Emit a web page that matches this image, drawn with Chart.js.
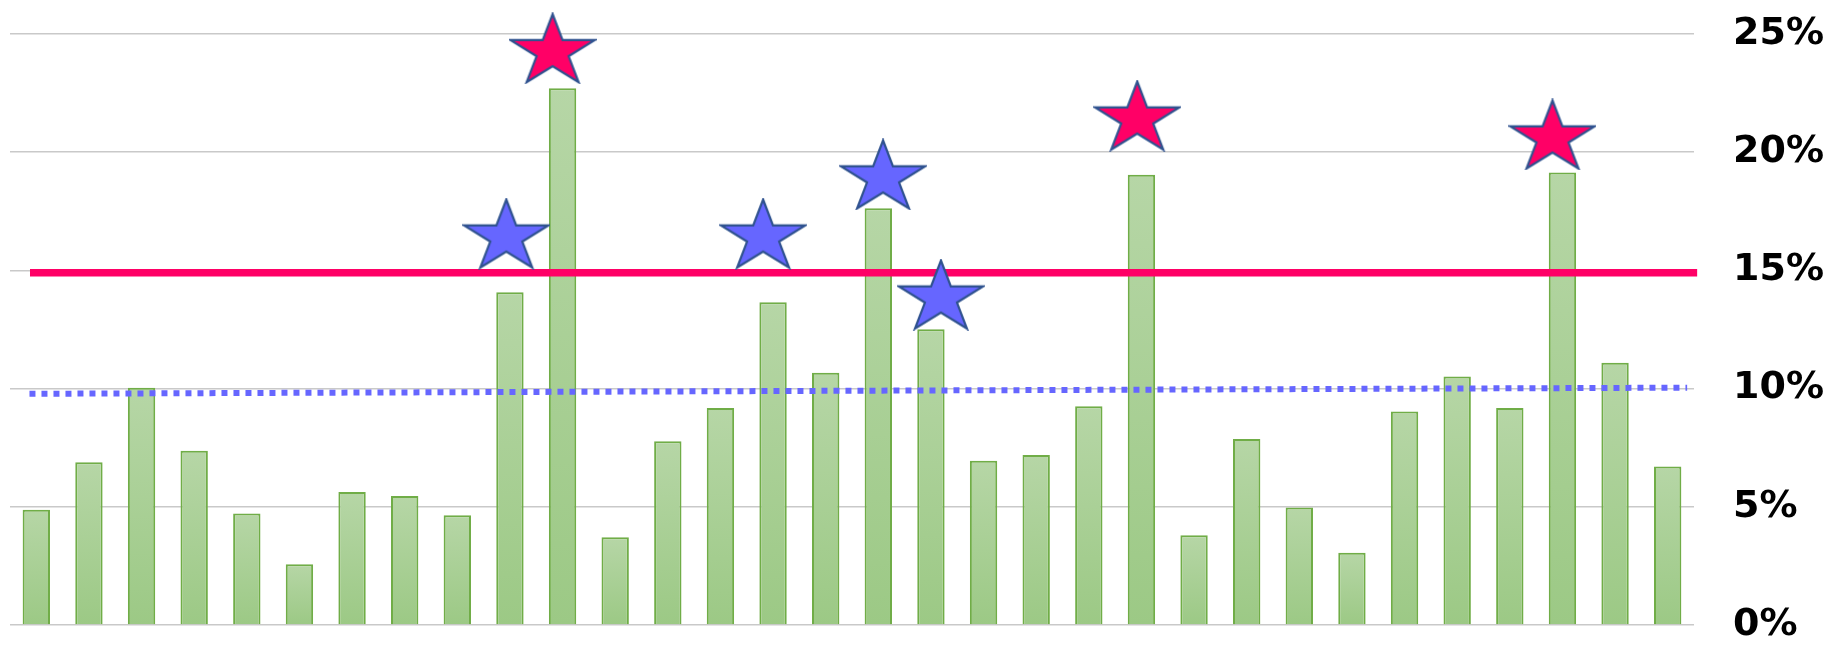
<!DOCTYPE html>
<html>
<head>
<meta charset="utf-8">
<script src="https://cdn.jsdelivr.net/npm/chart.js@4.4.1/dist/chart.umd.min.js"></script>
<style>
  html, body { margin: 0; padding: 0; background: #fff; }
  canvas { display: block; }
</style>
</head>
<body>
<canvas id="chart" width="1845" height="648"></canvas>
<script>
// bars: one value (%) per period
const periods = ['1', '2', '3', '4', '5', '6', '7', '8', '9', '10', '11', '12', '13', '14', '15', '16',
  '17', '18', '19', '20', '21', '22', '23', '24', '25', '26', '27', '28', '29', '30', '31', '32'];
const rates = [4.88, 6.88, 10.04, 7.37, 4.72, 2.57, 5.63, 5.46, 4.64, 14.08, 22.71, 3.71, 7.77, 9.18, 13.65, 10.67,
  17.63, 12.51, 6.95, 7.19, 9.25, 19.05, 3.80, 7.87, 4.97, 3.06, 9.03, 10.51, 9.18, 19.14, 11.09, 6.70];

// threshold line and trend line (x in period-index units, y in %)
const thresholdX = [-0.12, 31.56];
const thresholdY = [14.9, 14.9];
const trendX = [-0.13, 31.37];
const trendY = [9.78, 10.04];

// star markers (x in period-index units, y in %)
const redStarX = [9.81, 20.92, 28.81];
const redStarY = [24.4, 21.55, 20.75];
const blueStarX = [8.93, 13.81, 16.09, 17.19];
const blueStarY = [16.56, 16.56, 19.06, 13.98];

const yTicks = [0, 5, 10, 15, 20, 25];

const toPoints = (xs, ys) => xs.map((x, i) => ({ x: x, y: ys[i] }));

// filled five-point star on its own canvas, used as a point image
function makeStar(fill, w, h) {
  const pad = 2;
  const c = document.createElement('canvas');
  c.width = w + pad * 2;
  c.height = h + pad * 2;
  const g = c.getContext('2d');
  g.beginPath();
  for (let k = 0; k < 10; k++) {
    const a = (-90 + 36 * k) * Math.PI / 180;
    const r = k % 2 ? 0.382 : 1;
    const px = pad + (Math.cos(a) * r + 0.951) / 1.902 * w;
    const py = pad + (Math.sin(a) * r + 1) / 1.809 * h;
    if (k === 0) g.moveTo(px, py); else g.lineTo(px, py);
  }
  g.closePath();
  g.fillStyle = fill;
  g.fill();
  g.lineWidth = 2.2;
  g.strokeStyle = '#2F528F';
  g.stroke();
  return c;
}

const redStar = makeStar('#FF0066', 84, 68);
const blueStar = makeStar('#6666FF', 84, 68);

// vertical gradient per bar, light at the top
function barFill(context) {
  const chart = context.chart;
  const y = chart.scales.y;
  if (!chart.chartArea || !y || context.raw == null) return '#A9CF94';
  const top = y.getPixelForValue(context.raw);
  const bottom = y.getPixelForValue(0);
  if (!isFinite(top) || !isFinite(bottom) || top === bottom) return '#A9CF94';
  const grad = chart.ctx.createLinearGradient(0, top, 0, bottom);
  grad.addColorStop(0, '#B6D6A6');
  grad.addColorStop(1, '#9CC985');
  return grad;
}

new Chart(document.getElementById('chart'), {
  type: 'bar',
  data: {
    labels: periods,
    datasets: [
      {
        type: 'bar',
        data: rates,
        backgroundColor: barFill,
        borderColor: '#70AD47',
        borderWidth: 2,
        grouped: false,
        barPercentage: 0.52,
        categoryPercentage: 1,
        order: 5
      },
      {
        type: 'line',
        xAxisID: 'xt',
        data: toPoints(trendX, trendY),
        borderColor: '#6666FF',
        borderWidth: 6,
        borderDash: [6, 6],
        borderCapStyle: 'butt',
        pointRadius: 0,
        fill: false,
        order: 4
      },
      {
        type: 'line',
        xAxisID: 'xt',
        data: toPoints(thresholdX, thresholdY),
        borderColor: '#FF0066',
        borderWidth: 7.5,
        borderCapStyle: 'butt',
        pointRadius: 0,
        fill: false,
        clip: false,
        order: 3
      },
      {
        type: 'line',
        xAxisID: 'xt',
        data: toPoints(blueStarX, blueStarY),
        showLine: false,
        pointStyle: blueStar,
        pointRadius: 5,
        clip: false,
        order: 2
      },
      {
        type: 'line',
        xAxisID: 'xt',
        data: toPoints(redStarX, redStarY),
        showLine: false,
        pointStyle: redStar,
        pointRadius: 5,
        clip: false,
        order: 1
      }
    ]
  },
  options: {
    responsive: false,
    animation: false,
    events: [],
    layout: { padding: { top: 34, bottom: 23, left: 10, right: 22 } },
    plugins: {
      legend: { display: false },
      tooltip: { enabled: false }
    },
    scales: {
      x: {
        display: false,
        offset: true,
        grid: { display: false }
      },
      xt: {
        type: 'linear',
        display: false,
        offset: false,
        grid: { display: false, offset: false },
        min: -0.5,
        max: 31.5
      },
      y: {
        position: 'right',
        min: 0,
        max: 25,
        afterBuildTicks: (axis) => { axis.ticks = yTicks.map((v) => ({ value: v })); },
        // labels sit 39px right of the plot; no extra room above/below
        afterFit: (axis) => {
          axis.width = 129;
          axis.paddingTop = 0;
          axis.paddingBottom = 0;
        },
        border: { display: false },
        grid: { color: '#C9C9C9', lineWidth: 1.5, drawTicks: false },
        ticks: {
          padding: 39,
          color: '#000',
          font: { family: 'DejaVu Sans', size: 38, weight: 'bold' },
          callback: (v) => v + '%'
        }
      }
    }
  }
});
</script>
</body>
</html>
